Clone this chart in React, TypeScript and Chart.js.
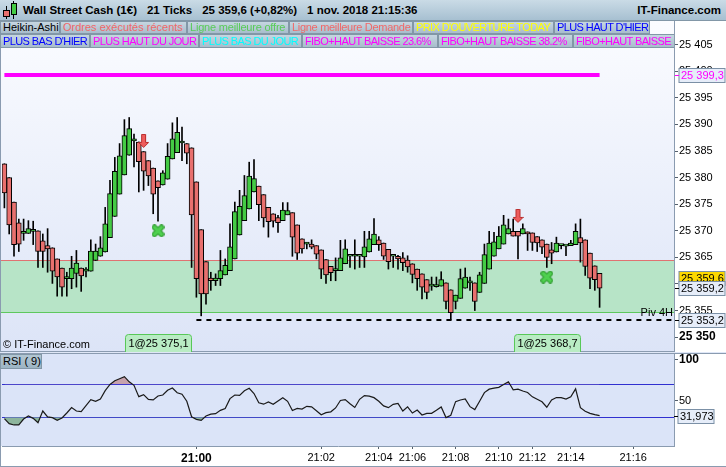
import { useEffect, useRef } from "react";
import { Chart, registerables } from "chart.js";

Chart.register(...registerables);

const FONT = "'Liberation Sans', Arial, sans-serif";

// Heikin-Ashi candles (21 ticks each)
const OPEN = [
  25382.6, 25380.0, 25375.4, 25371.5, 25369.5, 25369.5, 25369.9, 25370.0, 25368.1, 25367.2,
  25366.8, 25364.7, 25363.0, 25361.0, 25361.0, 25362.0, 25363.0, 25362.4, 25362.4, 25364.4,
  25365.2, 25366.0, 25368.7, 25372.7, 25376.9, 25380.5, 25384.2, 25386.9, 25386.7, 25384.9,
  25383.2, 25381.8, 25379.4, 25378.6, 25379.7, 25383.5, 25384.7, 25386.5, 25386.4, 25385.6,
  25379.2, 25370.2, 25364.2, 25361.1, 25360.6, 25361.0, 25361.7, 25362.5, 25364.7, 25369.2,
  25371.9, 25374.1, 25377.3, 25378.4, 25376.8, 25374.4, 25373.2, 25372.5, 25371.9, 25373.0,
  25373.4, 25371.1, 25368.5, 25367.5, 25367.5, 25367.2, 25366.4, 25364.6, 25363.3, 25362.5,
  25362.5, 25363.8, 25365.2, 25365.2, 25365.2, 25365.1, 25366.0, 25367.4, 25368.3, 25367.7,
  25366.5, 25365.2, 25365.2, 25364.9, 25364.5, 25363.8, 25362.8, 25361.9, 25360.8, 25359.6,
  25359.5, 25359.6, 25360.2, 25358.9, 25356.7, 25357.3, 25359.2, 25360.2, 25360.2, 25358.4,
  25360.1, 25362.8, 25365.2, 25366.6, 25367.5, 25369.4, 25369.9, 25369.9, 25369.4, 25369.8,
  25369.6, 25368.9, 25368.3, 25367.5, 25366.4, 25366.0, 25367.2, 25367.1, 25367.2, 25367.4,
  25368.7, 25368.3, 25365.8, 25363.4, 25362.0,
];
const HIGH = [
  25382.6, 25380.0, 25375.4, 25372.2, 25372.2, 25371.9, 25371.8, 25370.0, 25369.4, 25370.4,
  25366.8, 25364.7, 25363.0, 25362.2, 25365.2, 25366.3, 25363.0, 25363.1, 25368.3, 25367.5,
  25368.9, 25374.4, 25379.5, 25383.8, 25386.4, 25390.9, 25391.3, 25388.2, 25386.7, 25384.9,
  25383.2, 25381.8, 25379.4, 25381.3, 25386.4, 25390.3, 25391.3, 25389.5, 25386.4, 25385.6,
  25379.2, 25370.2, 25364.2, 25362.2, 25361.9, 25366.3, 25364.7, 25371.3, 25375.4, 25377.6,
  25380.4, 25382.9, 25383.4, 25378.4, 25376.8, 25374.4, 25373.2, 25372.9, 25375.3, 25375.3,
  25373.4, 25371.1, 25368.5, 25367.8, 25368.3, 25367.2, 25366.4, 25364.6, 25363.3, 25364.9,
  25368.2, 25368.3, 25365.2, 25368.3, 25365.2, 25369.9, 25369.9, 25372.3, 25368.9, 25367.7,
  25366.5, 25365.2, 25365.4, 25365.9, 25365.3, 25363.8, 25362.8, 25361.9, 25360.8, 25361.3,
  25361.3, 25362.3, 25360.2, 25358.9, 25357.9, 25362.8, 25363.0, 25361.3, 25360.2, 25362.2,
  25367.5, 25369.9, 25369.7, 25370.8, 25372.9, 25372.2, 25372.2, 25369.9, 25371.3, 25369.8,
  25369.6, 25368.9, 25368.3, 25367.5, 25367.8, 25368.8, 25367.2, 25367.1, 25368.2, 25371.3,
  25372.2, 25368.3, 25365.8, 25363.4, 25362.0,
];
const LOW = [
  25374.3, 25369.4, 25365.2, 25366.1, 25368.2, 25369.5, 25367.4, 25363.1, 25363.1, 25362.2,
  25360.1, 25357.7, 25357.7, 25357.7, 25359.1, 25359.4, 25358.6, 25361.3, 25362.4, 25364.4,
  25365.2, 25366.0, 25368.7, 25372.7, 25376.9, 25380.5, 25384.2, 25382.0, 25377.3, 25377.6,
  25378.5, 25373.2, 25371.8, 25378.6, 25379.7, 25383.5, 25384.7, 25383.2, 25382.6, 25363.1,
  25357.5, 25354.0, 25356.2, 25358.8, 25359.7, 25359.7, 25361.7, 25362.5, 25364.7, 25369.2,
  25371.9, 25374.1, 25377.3, 25371.9, 25370.7, 25368.8, 25370.7, 25369.7, 25371.9, 25373.0,
  25365.2, 25364.6, 25365.8, 25366.6, 25366.6, 25364.7, 25361.0, 25360.1, 25360.6, 25360.6,
  25362.5, 25363.8, 25363.1, 25362.8, 25363.1, 25363.1, 25366.0, 25367.4, 25366.3, 25364.6,
  25362.8, 25363.1, 25362.8, 25362.5, 25362.2, 25360.2, 25358.8, 25357.2, 25357.2, 25358.8,
  25359.4, 25359.6, 25355.3, 25353.2, 25355.3, 25357.3, 25359.2, 25358.8, 25355.0, 25358.4,
  25360.1, 25362.8, 25365.2, 25366.6, 25367.5, 25369.4, 25369.0, 25364.7, 25369.4, 25366.3,
  25366.3, 25366.1, 25365.7, 25363.1, 25363.8, 25366.0, 25366.6, 25365.3, 25367.2, 25367.4,
  25364.1, 25361.6, 25359.1, 25358.8, 25355.6,
];
const CLOSE = [
  25377.1, 25371.1, 25367.4, 25367.5, 25369.5, 25370.4, 25369.9, 25366.1, 25366.1, 25366.6,
  25362.4, 25361.3, 25359.4, 25361.0, 25363.0, 25363.9, 25361.5, 25362.4, 25366.2, 25366.2,
  25366.8, 25371.3, 25377.0, 25381.2, 25384.1, 25387.9, 25389.2, 25386.9, 25383.0, 25381.2,
  25380.3, 25376.9, 25378.1, 25380.9, 25384.0, 25387.3, 25388.5, 25386.5, 25384.6, 25373.0,
  25361.0, 25358.1, 25358.1, 25360.6, 25361.1, 25362.5, 25363.5, 25367.0, 25373.6, 25374.6,
  25376.6, 25380.3, 25379.8, 25374.9, 25372.4, 25371.7, 25371.8, 25371.5, 25373.9, 25373.8,
  25368.8, 25365.8, 25366.6, 25367.5, 25366.9, 25365.6, 25362.8, 25361.7, 25362.1, 25362.5,
  25364.9, 25366.6, 25365.2, 25365.2, 25365.2, 25367.0, 25368.5, 25369.4, 25367.4, 25365.2,
  25364.2, 25365.2, 25364.7, 25364.0, 25363.2, 25361.8, 25361.0, 25359.4, 25358.4, 25359.6,
  25359.9, 25360.8, 25356.7, 25354.6, 25357.9, 25361.0, 25361.3, 25360.2, 25356.7, 25361.7,
  25365.5, 25367.7, 25367.9, 25369.0, 25371.1, 25370.4, 25369.0, 25369.0, 25370.4, 25369.4,
  25367.8, 25367.7, 25366.9, 25365.0, 25365.8, 25367.7, 25367.2, 25367.1, 25367.7, 25369.9,
  25367.7, 25363.3, 25361.1, 25360.8, 25359.2,
];

// RSI(9), one value per candle
const RSI = [
  28.3, 22.3, 20.7, 20.7, 27.9, 31.6, 28.7, 23.5, 37.6, 30.5,
  29.6, 26.3, 29.2, 35.2, 41.7, 37.6, 37.0, 44.1, 51.4, 49.4,
  52.2, 62.3, 69.8, 74.2, 76.7, 79.3, 73.0, 68.7, 55.0, 57.4,
  51.6, 51.0, 55.8, 57.0, 62.7, 65.5, 59.7, 58.0, 49.4, 30.6,
  27.5, 26.3, 31.6, 33.9, 34.4, 38.4, 40.7, 52.6, 57.0, 56.6,
  62.1, 65.1, 58.8, 47.5, 45.9, 48.7, 45.7, 49.8, 53.6, 49.4,
  38.2, 40.7, 39.9, 43.3, 42.7, 38.0, 33.0, 35.6, 36.6, 41.3,
  50.4, 51.4, 46.5, 41.9, 51.8, 56.3, 55.6, 53.8, 49.4, 43.8,
  41.7, 45.7, 46.7, 37.6, 42.7, 35.2, 38.8, 32.8, 34.8, 34.8,
  38.4, 42.5, 29.6, 32.4, 49.0, 51.0, 52.2, 42.9, 39.3, 49.4,
  59.9, 64.1, 65.3, 66.3, 69.8, 73.0, 63.3, 64.1, 61.9, 60.0,
  54.8, 51.8, 48.8, 42.2, 51.0, 53.9, 53.9, 52.0, 54.8, 64.5,
  41.7, 37.4, 34.8, 33.2, 31.973,
];

const SLOT_COUNT = 140; // candles plus empty room on the right
const SLOTS = Array.from({ length: SLOT_COUNT }, (_, i) => i);
const TIME_SLOTS = [40, 66, 78, 85, 94, 103, 110, 118, 131];
const TIME_LABELS = ["21:00", "21:02", "21:04", "21:06", "21:08", "21:10", "21:12", "21:14", "21:16"];
const PRICE_TICKS = [25350, 25355, 25360, 25365, 25370, 25375, 25380, 25385, 25390, 25395, 25400, 25405];
const RSI_TICKS = [30, 50, 70, 100];

const DAY_HIGH = 25399.3;
const PIVOT_4H = 25353.2;
const PIVOT_FROM = 40;
const BEST_BID = 25364.5;
const BEST_ASK = 25354.8;
const LAST_PRICE = 25359.6;

const SELL_SLOTS = [29, 107];
const SELL_PRICES = [25386.9, 25372.8];
const FILL_SLOTS = [32, 113];
const FILL_MARKS = [25370.0, 25361.3];
const FILL_QTY = [1, 1];
const FILL_PRICES = [25375.1, 25368.7];

const HEADER_ITEMS = ["Wall Street Cash (1€)", "21 Ticks", "25 359,6 (+0,82%)", "1 nov. 2018 21:15:36"];
const LEGEND_ROW_1 = [
  ["Heikin-Ashi", "#000000"],
  ["Ordres exécutés récents", "#f06868"],
  ["Ligne meilleure offre", "#58cc58"],
  ["Ligne meilleure Demande", "#f06868"],
  ["PRIX D'OUVERTURE TODAY", "#ffff00"],
  ["PLUS HAUT D'HIER", "#0000ff"],
];
const LEGEND_ROW_2 = [
  ["PLUS BAS D'HIER", "#0000ff"],
  ["PLUS HAUT DU JOUR", "#ff00ff"],
  ["PLUS BAS DU JOUR", "#00ffff"],
  ["FIBO+HAUT BAISSE 23.6%", "#ff00ff"],
  ["FIBO+HAUT BAISSE 38.2%", "#ff00ff"],
  ["FIBO+HAUT BAISSE 50%", "#ff00ff"],
];
// box widths of the legend buttons, in px
const LEGEND_W_1 = [60, 127, 102, 124, 141, 96];
const LEGEND_W_2 = [90, 109, 103, 136, 135, 110];

const UP = "#44cb44";
const DOWN = "#e8706e";
const AXIS = "#8a9bb0";

function fmtPrice(v: number, digits = 0) {
  const [whole, frac] = v.toFixed(digits).split(".");
  const grouped = whole.replace(/\B(?=(\d{3})+(?!\d))/g, " ");
  return frac ? `${grouped},${frac}` : grouped;
}

function drawTag(ctx: CanvasRenderingContext2D, x: number, y: number, w: number, text: string, bg: string, fg: string, tick?: string) {
  const h = 14;
  const top = Math.round(y - h / 2) + 0.5;
  ctx.fillStyle = bg;
  ctx.fillRect(x, top, w, h);
  ctx.strokeStyle = "#7b90a6";
  ctx.lineWidth = 1;
  ctx.strokeRect(x, top, w, h);
  if (tick) {
    ctx.strokeStyle = tick;
    ctx.beginPath();
    ctx.moveTo(x - 4, Math.round(y) + 0.5);
    ctx.lineTo(x, Math.round(y) + 0.5);
    ctx.stroke();
  }
  ctx.fillStyle = fg;
  ctx.font = `11px ${FONT}`;
  ctx.textAlign = "left";
  ctx.textBaseline = "middle";
  ctx.fillText(text, x + 2, top + h / 2 + 0.5);
}

function makeArrow() {
  const c = document.createElement("canvas");
  c.width = 11;
  c.height = 14;
  const g = c.getContext("2d")!;
  g.beginPath();
  g.moveTo(3.5, 0.5);
  g.lineTo(7.5, 0.5);
  g.lineTo(7.5, 8.5);
  g.lineTo(10.5, 8.5);
  g.lineTo(5.5, 13.5);
  g.lineTo(0.5, 8.5);
  g.lineTo(3.5, 8.5);
  g.closePath();
  g.fillStyle = "#ee5c5c";
  g.fill();
  g.strokeStyle = "#b82c2c";
  g.lineWidth = 1;
  g.stroke();
  return c;
}

function makeCross() {
  const c = document.createElement("canvas");
  c.width = 13;
  c.height = 13;
  const g = c.getContext("2d")!;
  const x = () => {
    g.beginPath();
    g.moveTo(3, 3);
    g.lineTo(10, 10);
    g.moveTo(10, 3);
    g.lineTo(3, 10);
    g.stroke();
  };
  g.lineCap = "round";
  g.strokeStyle = "#2e9a2e";
  g.lineWidth = 5.5;
  x();
  g.strokeStyle = "#4fd04f";
  g.lineWidth = 3.5;
  x();
  return c;
}

const mainPanel = {
  id: "mainPanel",
  beforeDraw(chart: any) {
    const { ctx, chartArea: a, scales } = chart;
    const y = scales.y;
    ctx.save();
    ctx.fillStyle = "#ffffff";
    ctx.fillRect(0, 0, chart.width, chart.height);
    const grad = ctx.createLinearGradient(0, a.top, 0, a.bottom);
    grad.addColorStop(0, "#fbfcff");
    grad.addColorStop(1, "#dce4f7");
    ctx.fillStyle = grad;
    ctx.fillRect(0, a.top, a.right, a.bottom - a.top);

    const zTop = Math.round(y.getPixelForValue(BEST_BID)) + 0.5;
    const zBot = Math.round(y.getPixelForValue(BEST_ASK)) + 0.5;
    ctx.fillStyle = "#b7e4c7";
    ctx.fillRect(0, zTop, a.right, zBot - zTop);
    ctx.lineWidth = 1;
    ctx.strokeStyle = "#e07272";
    ctx.beginPath();
    ctx.moveTo(0, zTop);
    ctx.lineTo(a.right, zTop);
    ctx.stroke();
    ctx.strokeStyle = "#5ec85e";
    ctx.beginPath();
    ctx.moveTo(0, zBot);
    ctx.lineTo(a.right, zBot);
    ctx.stroke();

    ctx.strokeStyle = AXIS;
    ctx.beginPath();
    ctx.moveTo(0.5, 0);
    ctx.lineTo(0.5, chart.height);
    ctx.moveTo(0, a.bottom - 0.5);
    ctx.lineTo(a.right, a.bottom - 0.5);
    ctx.stroke();
    ctx.restore();
  },
  afterDraw(chart: any) {
    const { ctx, chartArea: a, scales } = chart;
    const { x, y } = scales;
    ctx.save();
    ctx.font = `11px ${FONT}`;
    ctx.fillStyle = "#000";
    ctx.textAlign = "left";
    ctx.textBaseline = "middle";
    ctx.fillText("© IT-Finance.com", a.left + 1, a.bottom - 7);

    FILL_SLOTS.forEach((slot, k) => {
      const cx = x.getPixelForValue(slot);
      const w = 66;
      const h = 17;
      const left = Math.round(cx - w / 2) + 0.5;
      const top = a.bottom - h - 0.5;
      ctx.beginPath();
      ctx.roundRect(left, top, w, h + 1, [3, 3, 0, 0]);
      ctx.fillStyle = "#b9ecc4";
      ctx.fill();
      ctx.strokeStyle = "#58c858";
      ctx.stroke();
      ctx.fillStyle = "#000";
      ctx.textAlign = "center";
      ctx.fillText(`${FILL_QTY[k]}@${fmtPrice(FILL_PRICES[k], 1)}`, left + w / 2, top + h / 2 + 1);
    });

    ctx.textAlign = "right";
    ctx.fillStyle = "#000";
    ctx.fillText("Piv 4H", a.right - 1, y.getPixelForValue(PIVOT_4H) - 7);

    const tx = a.right + 5;
    const last = CLOSE[CLOSE.length - 1];
    drawTag(ctx, tx, y.getPixelForValue(DAY_HIGH), 46, fmtPrice(DAY_HIGH, 1), "#e6edf9", "#ff00ff", "#ff00ff");
    drawTag(ctx, tx, y.getPixelForValue(LAST_PRICE) - 8, 46, fmtPrice(LAST_PRICE, 1), "#fcd800", "#000");
    drawTag(ctx, tx, y.getPixelForValue(last), 46, fmtPrice(last, 1), "#e6edf9", "#000", "#000");
    drawTag(ctx, tx, y.getPixelForValue(PIVOT_4H), 46, fmtPrice(PIVOT_4H, 1), "#e6edf9", "#000", "#000");
    ctx.restore();
  },
};

const rsiPanel = {
  id: "rsiPanel",
  beforeDraw(chart: any) {
    const { ctx, chartArea: a } = chart;
    ctx.save();
    ctx.fillStyle = "#ffffff";
    ctx.fillRect(0, 0, chart.width, chart.height);
    ctx.fillStyle = "#dbe4f8";
    ctx.fillRect(0, a.top, a.right, a.bottom - a.top);
    ctx.strokeStyle = AXIS;
    ctx.lineWidth = 1;
    ctx.beginPath();
    ctx.moveTo(0.5, 0);
    ctx.lineTo(0.5, chart.height);
    ctx.moveTo(0, 0.5);
    ctx.lineTo(chart.width, 0.5);
    ctx.moveTo(0, chart.height - 0.5);
    ctx.lineTo(chart.width, chart.height - 0.5);
    ctx.stroke();
    ctx.restore();
  },
  afterDraw(chart: any) {
    const { ctx, chartArea: a, scales } = chart;
    const v = RSI[RSI.length - 1];
    ctx.save();
    drawTag(ctx, a.right + 4, scales.y.getPixelForValue(v), 36, v.toFixed(3).replace(".", ","), "#e6edf9", "#000", "#000");
    ctx.restore();
  },
};

function mainConfig(): any {
  const lastSlot = OPEN.length - 1;
  return {
    type: "bar",
    data: {
      labels: SLOTS,
      datasets: [
        {
          type: "bar",
          data: OPEN.map((o, i) => [o, CLOSE[i]]),
          backgroundColor: OPEN.map((o, i) => (CLOSE[i] >= o ? UP : DOWN)),
          borderColor: "#000",
          borderWidth: 1,
          borderSkipped: false,
          barThickness: 5,
          minBarLength: 2,
          grouped: false,
          order: 1,
        },
        {
          type: "bar",
          data: LOW.map((l, i) => [l, HIGH[i]]),
          backgroundColor: "#000",
          barThickness: 1,
          grouped: false,
          order: 2,
        },
        {
          type: "line",
          data: [
            { x: 0, y: DAY_HIGH },
            { x: lastSlot, y: DAY_HIGH },
          ],
          borderColor: "#ff00ff",
          borderWidth: 4,
          pointRadius: 0,
          order: 3,
        },
        {
          type: "line",
          data: [
            { x: PIVOT_FROM, y: PIVOT_4H },
            { x: SLOT_COUNT - 1, y: PIVOT_4H },
          ],
          borderColor: "#000",
          borderWidth: 2,
          borderDash: [5, 5],
          pointRadius: 0,
          order: 0,
        },
        {
          type: "line",
          data: SELL_SLOTS.map((s, k) => ({ x: s, y: SELL_PRICES[k] })),
          showLine: false,
          pointStyle: makeArrow(),
          pointRadius: 6,
          order: -1,
        },
        {
          type: "line",
          data: FILL_SLOTS.map((s, k) => ({ x: s, y: FILL_MARKS[k] })),
          showLine: false,
          pointStyle: makeCross(),
          pointRadius: 6,
          order: -1,
        },
      ],
    },
    options: {
      responsive: false,
      animation: false,
      events: [],
      layout: { autoPadding: false, padding: { left: 2, right: 0, top: 0, bottom: 0 } },
      plugins: { legend: { display: false }, tooltip: { enabled: false } },
      scales: {
        x: { type: "category", display: false, offset: true },
        y: {
          position: "right",
          min: 25347.2,
          max: 25409.45,
          afterBuildTicks(scale: any) {
            scale.ticks = PRICE_TICKS.map((value) => ({ value }));
          },
          afterFit(scale: any) {
            scale.width = 52;
            scale.paddingTop = 0;
            scale.paddingBottom = 0;
          },
          border: { color: AXIS },
          grid: { drawOnChartArea: false, tickLength: 4, tickColor: "#55606c" },
          ticks: {
            color: "#000",
            padding: 1,
            font: (ctx: any) =>
              ctx.tick && ctx.tick.value === PRICE_TICKS[0]
                ? { family: FONT, size: 12, weight: "bold" }
                : { family: FONT, size: 11 },
            callback: (v: number) => fmtPrice(v),
          },
        },
      },
    },
    plugins: [mainPanel],
  };
}

function rsiConfig(): any {
  return {
    type: "line",
    data: {
      labels: SLOTS,
      datasets: [
        {
          data: RSI,
          borderColor: "#1a1a1a",
          borderWidth: 1.2,
          pointRadius: 0,
          tension: 0,
          fill: { target: { value: 70 }, above: "#c6a2ad", below: "rgba(0,0,0,0)" },
          order: 0,
        },
        {
          data: RSI,
          borderColor: "rgba(0,0,0,0)",
          borderWidth: 1,
          pointRadius: 0,
          tension: 0,
          fill: { target: { value: 30 }, above: "rgba(0,0,0,0)", below: "#8db59d" },
          order: 1,
        },
      ],
    },
    options: {
      responsive: false,
      animation: false,
      events: [],
      layout: { autoPadding: false, padding: { left: 2, right: 0, top: 1, bottom: 0 } },
      plugins: { legend: { display: false }, tooltip: { enabled: false } },
      scales: {
        x: {
          type: "category",
          offset: true,
          afterFit(scale: any) {
            scale.height = 21;
            scale.paddingLeft = 0;
            scale.paddingRight = 0;
          },
          border: { color: AXIS },
          grid: {
            offset: false,
            drawOnChartArea: false,
            tickLength: 3,
            tickColor: (ctx: any) => (ctx.tick && TIME_SLOTS.includes(ctx.tick.value) ? "#55606c" : "rgba(0,0,0,0)"),
          },
          ticks: {
            autoSkip: false,
            maxRotation: 0,
            minRotation: 0,
            padding: 2,
            color: "#000",
            font: (ctx: any) =>
              ctx.tick && ctx.tick.value === TIME_SLOTS[0]
                ? { family: FONT, size: 12, weight: "bold" }
                : { family: FONT, size: 11 },
            callback: (v: number) => {
              const k = TIME_SLOTS.indexOf(v);
              return k >= 0 ? TIME_LABELS[k] : "";
            },
          },
        },
        y: {
          position: "right",
          min: -4.8,
          max: 106.7,
          afterBuildTicks(scale: any) {
            scale.ticks = RSI_TICKS.map((value) => ({ value }));
          },
          afterFit(scale: any) {
            scale.width = 52;
            scale.paddingTop = 0;
            scale.paddingBottom = 0;
          },
          border: { color: AXIS },
          grid: {
            lineWidth: 1,
            tickLength: 4,
            color: (ctx: any) => (ctx.tick && (ctx.tick.value === 70 || ctx.tick.value === 30) ? "#3030d0" : "rgba(0,0,0,0)"),
            tickColor: (ctx: any) => (ctx.tick && (ctx.tick.value === 100 || ctx.tick.value === 50) ? "#55606c" : "rgba(0,0,0,0)"),
          },
          ticks: {
            color: "#000",
            padding: 1,
            font: (ctx: any) =>
              ctx.tick && ctx.tick.value === 100
                ? { family: FONT, size: 12, weight: "bold" }
                : { family: FONT, size: 11 },
            callback: (v: number) => (v === 100 || v === 50 ? String(v) : ""),
          },
        },
      },
    },
    plugins: [rsiPanel],
  };
}

const boxStyle: any = {
  boxSizing: "border-box",
  border: "1px solid #8297a7",
  background: "linear-gradient(#c6d6e1, #a8bdcc)",
  padding: "0 2px",
  whiteSpace: "nowrap",
  overflow: "hidden",
  flex: "none",
};

function spacingFor(label: string) {
  if (label === label.toUpperCase()) return "-0.6px";
  if (label.includes("Demande")) return "-0.3px";
  if (label.includes("offre")) return "-0.2px";
  return "0px";
}

function LegendRow({ items, widths, top, height }: { items: string[][]; widths: number[]; top: number; height: number }) {
  return (
    <div style={{ position: "absolute", left: 0, top, width: 674, height, display: "flex", overflow: "hidden", fontSize: 11, lineHeight: `${height - 2}px` }}>
      {items.map(([label, color], i) => (
        <div key={label} style={{ ...boxStyle, width: widths[i], height, color, letterSpacing: spacingFor(label) }}>
          {label}
        </div>
      ))}
    </div>
  );
}

export default function App() {
  const mainRef = useRef<HTMLCanvasElement>(null);
  const rsiRef = useRef<HTMLCanvasElement>(null);

  useEffect(() => {
    if (!mainRef.current || !rsiRef.current) {
      return;
    }
    const main = new Chart(mainRef.current, mainConfig());
    const rsi = new Chart(rsiRef.current, rsiConfig());
    return () => {
      main.destroy();
      rsi.destroy();
    };
  }, []);

  return (
    <div
      style={{
        position: "fixed",
        left: 0,
        top: 0,
        width: 726,
        height: 467,
        overflow: "hidden",
        background: "#dfe7f7",
        fontFamily: FONT,
      }}
    >
      <canvas ref={mainRef} width={726} height={331} style={{ position: "absolute", left: 0, top: 21 }} />
      <canvas ref={rsiRef} width={726} height={114} style={{ position: "absolute", left: 0, top: 353 }} />

      <div
        style={{
          position: "absolute",
          left: 0,
          top: 0,
          width: 726,
          height: 21,
          boxSizing: "border-box",
          borderBottom: "1px solid #8297a7",
          background: "linear-gradient(#cadbe6, #a7c0d1)",
          fontSize: 11.5,
          fontWeight: "bold",
          lineHeight: "21px",
        }}
      >
        <div style={{ position: "absolute", left: 6, top: 6, width: 1, height: 13, background: "#000" }} />
        <div style={{ position: "absolute", left: 3, top: 10, width: 7, height: 7, boxSizing: "border-box", background: DOWN, border: "1px solid #000" }} />
        <div style={{ position: "absolute", left: 13, top: 1, width: 1, height: 18, background: "#000" }} />
        <div style={{ position: "absolute", left: 11, top: 3, width: 6, height: 12, boxSizing: "border-box", background: UP, border: "1px solid #000" }} />
        <div style={{ position: "absolute", left: 23, top: 0, display: "flex", gap: 10, whiteSpace: "nowrap" }}>
          {HEADER_ITEMS.map((t) => (
            <span key={t}>{t}</span>
          ))}
        </div>
        <span style={{ position: "absolute", right: 5, top: 0 }}>IT-Finance.com</span>
      </div>

      <LegendRow items={LEGEND_ROW_1} widths={LEGEND_W_1} top={21} height={13} />
      <LegendRow items={LEGEND_ROW_2} widths={LEGEND_W_2} top={34} height={14} />

      <div
        style={{
          ...boxStyle,
          position: "absolute",
          left: 0,
          top: 354,
          width: 42,
          height: 15,
          fontSize: 11,
          lineHeight: "13px",
          color: "#000",
          background: "linear-gradient(#b2c6d3, #9cb4c4)",
        }}
      >
        RSI ( 9)
      </div>
    </div>
  );
}
